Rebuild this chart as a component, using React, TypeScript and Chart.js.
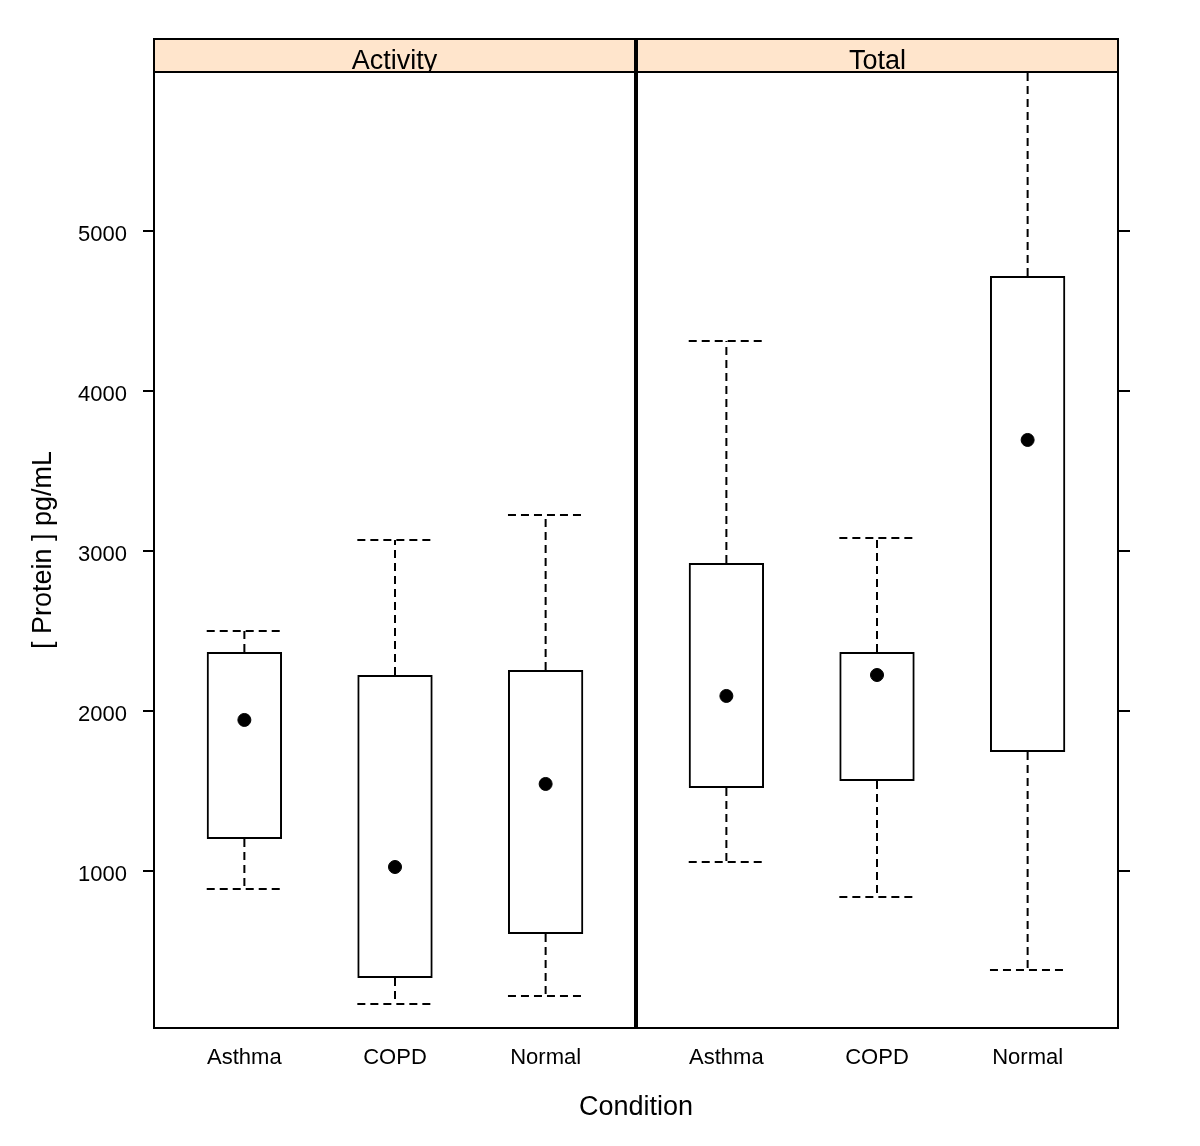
import React, { useEffect, useRef } from "react";
import { Chart, registerables } from "chart.js";

Chart.register(...registerables);

// ---- data ----
const panels = ["Activity", "Total"];
const conditions = ["Asthma", "COPD", "Normal"];
// order: Activity(Asthma, COPD, Normal), Total(Asthma, COPD, Normal)
const lowerWhisker = [887, 169, 219, 1056, 838, 381];
const lowerHinge = [1200, 331, 606, 1519, 1562, 1744];
const medians = [1944, 1025, 1544, 2094, 2225, 3694];
const upperHinge = [2369, 2225, 2256, 2925, 2369, 4719];
const upperWhisker = [2500, 3069, 3225, 4312, 3081, 6000];
const yTicks = [1000, 2000, 3000, 4000, 5000];
const yMin = 18.75;
const yMax = 5993.75;
const xAxisTitle = "Condition";
const yAxisTitle = "[ Protein ] pg/mL";

const FONT = "'Liberation Sans', Arial, Helvetica, sans-serif";

export default function App() {
  const ref = useRef<HTMLCanvasElement>(null);

  useEffect(() => {
    const canvas = ref.current;
    if (!canvas) return;

    const span = conditions.length + 0.2; // lattice: 0.4 .. n+0.6
    const positions: number[] = [];
    const labels: string[] = [];
    panels.forEach((_, p) => {
      conditions.forEach((c, i) => {
        positions.push(p * span + i + 1);
        labels.push(c);
      });
    });

    const boxData = positions.map((x, k) => ({ x, y: [lowerHinge[k], upperHinge[k]] }));
    const medianData = positions.map((x, k) => ({ x, y: medians[k] }));
    const whiskerData: { x: number; y: number | null }[] = [];
    positions.forEach((x, k) => {
      const half = 0.25;
      whiskerData.push({ x, y: upperHinge[k] }, { x, y: upperWhisker[k] }, { x, y: null });
      whiskerData.push({ x: x - half, y: upperWhisker[k] }, { x: x + half, y: upperWhisker[k] }, { x, y: null });
      whiskerData.push({ x, y: lowerHinge[k] }, { x, y: lowerWhisker[k] }, { x, y: null });
      whiskerData.push({ x: x - half, y: lowerWhisker[k] }, { x: x + half, y: lowerWhisker[k] }, { x, y: null });
    });

    const panelPlugin = {
      id: "panelFrames",
      afterDatasetsDraw(chart: any) {
        const ctx = chart.ctx;
        const xs = chart.scales.x;
        const { top, bottom } = chart.chartArea;
        const stripH = 33;
        ctx.save();
        panels.forEach((name, p) => {
          let left = xs.getPixelForValue(p * span + 0.4);
          let right = xs.getPixelForValue(p * span + span + 0.4);
          if (p > 0) left += 1;
          if (p < panels.length - 1) right -= 1;
          // strip
          ctx.fillStyle = "#ffe5cc";
          ctx.fillRect(left, top - stripH, right - left, stripH);
          ctx.save();
          ctx.beginPath();
          ctx.rect(left, top - stripH, right - left, stripH);
          ctx.clip();
          ctx.fillStyle = "#000";
          ctx.font = `27px ${FONT}`;
          ctx.textAlign = "center";
          ctx.textBaseline = "alphabetic";
          ctx.fillText(name, (left + right) / 2, top - 3);
          ctx.restore();
          ctx.lineWidth = 2;
          ctx.strokeStyle = "#000";
          ctx.strokeRect(left, top - stripH, right - left, stripH);
          ctx.strokeRect(left, top, right - left, bottom - top);
        });
        ctx.restore();
      },
    };

    const chart = new Chart(canvas, {
      type: "bar",
      data: {
        datasets: [
          {
            type: "bar",
            data: boxData as any,
            backgroundColor: "rgba(0,0,0,0)",
            borderColor: "#000",
            borderWidth: 2,
            borderSkipped: false,
            barPercentage: 0.5,
            categoryPercentage: 1,
            order: 3,
          },
          {
            type: "line",
            data: whiskerData as any,
            borderColor: "#000",
            borderWidth: 2,
            borderDash: [8, 5],
            pointRadius: 0,
            spanGaps: false,
            fill: false,
            order: 2,
          },
          {
            type: "scatter",
            data: medianData as any,
            backgroundColor: "#000",
            borderColor: "#000",
            borderWidth: 1,
            pointRadius: 6.5,
            order: 1,
          },
        ],
      },
      options: {
        responsive: false,
        animation: false,
        events: [],
        layout: { padding: { top: 72, left: 0, right: 0, bottom: 0 } },
        plugins: { legend: { display: false }, tooltip: { enabled: false } },
        scales: {
          x: {
            type: "linear",
            position: "bottom",
            min: 0.4,
            max: panels.length * span + 0.4,
            offset: false,
            grid: { display: false, drawTicks: false },
            border: { display: false },
            afterBuildTicks: (s: any) => {
              s.ticks = positions.map((v) => ({ value: v }));
            },
            afterFit: (s: any) => {
              s.height = 118;
            },
            ticks: {
              autoSkip: false,
              maxRotation: 0,
              padding: 17,
              color: "#000",
              font: { family: FONT, size: 22 },
              callback: (_v: any, i: number) => labels[i],
            },
            title: {
              display: true,
              text: xAxisTitle,
              color: "#000",
              font: { family: FONT, size: 27 },
              padding: { top: 0, bottom: 22 },
            },
          },
          y: {
            type: "linear",
            position: "left",
            min: yMin,
            max: yMax,
            grid: { display: true, drawOnChartArea: false, drawTicks: true, tickLength: 11, color: "#000", lineWidth: 2 },
            border: { display: false },
            afterBuildTicks: (s: any) => {
              s.ticks = yTicks.map((v) => ({ value: v }));
            },
            afterFit: (s: any) => {
              s.width = 154;
            },
            ticks: {
              padding: 16,
              labelOffset: 4,
              color: "#000",
              font: { family: FONT, size: 22 },
              callback: (v: any) => String(v),
            },
            title: {
              display: true,
              text: yAxisTitle,
              color: "#000",
              font: { family: FONT, size: 27 },
              padding: { top: 27, bottom: 0 },
            },
          },
          y2: {
            type: "linear",
            position: "right",
            min: yMin,
            max: yMax,
            grid: { display: true, drawOnChartArea: false, drawTicks: true, tickLength: 12, color: "#000", lineWidth: 2 },
            border: { display: false },
            afterBuildTicks: (s: any) => {
              s.ticks = yTicks.map((v) => ({ value: v }));
            },
            afterFit: (s: any) => {
              s.width = 82;
            },
            ticks: { display: false },
          },
        },
      } as any,
      plugins: [panelPlugin],
    });

    return () => chart.destroy();
  }, []);

  return (
    <div style={{ position: "fixed", left: 0, top: 0, width: 1200, height: 1146, background: "#fff" }}>
      <canvas ref={ref} width={1200} height={1146} style={{ display: "block", width: 1200, height: 1146 }} />
    </div>
  );
}
